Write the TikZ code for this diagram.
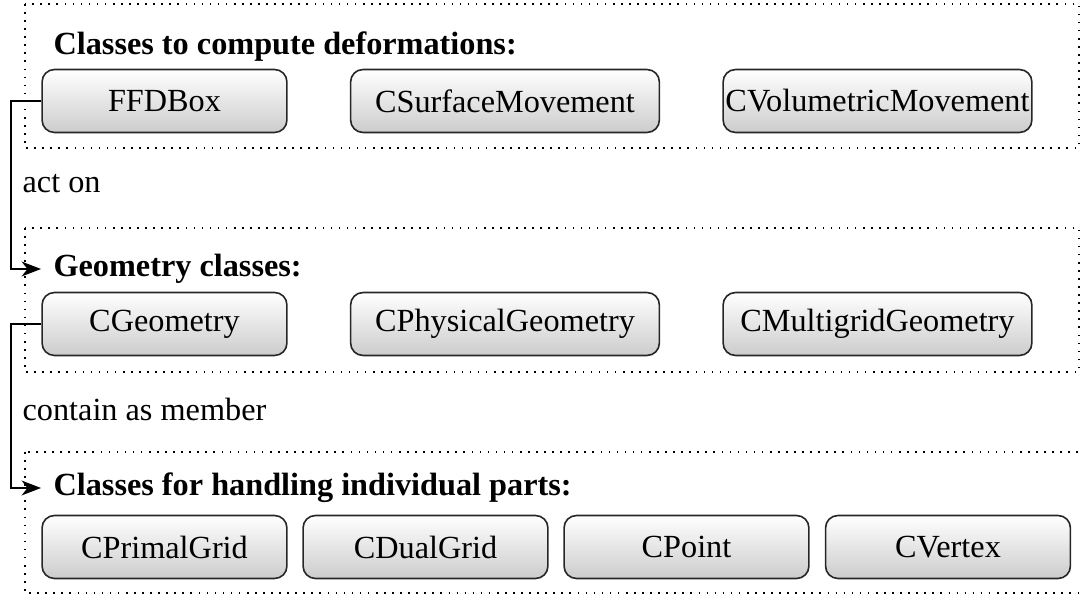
\documentclass[tikz,border=0pt]{standalone}
\usepackage{fontspec}
\setmainfont{Liberation Serif}
\usetikzlibrary{arrows.meta}
\begin{document}
\begin{tikzpicture}[x=0.31pt,y=-0.31pt,
  frame/.style={draw=black, dotted, line width=0.5pt},
  classbox/.style={draw=black!85, line width=0.5pt, rounded corners=3.8pt,
    top color=white, bottom color=black!20, minimum height=19.5pt,
    inner xsep=0pt, font=\fontsize{10}{12}\selectfont},
  narrow/.style={classbox, minimum width=75.9pt},
  wide/.style={classbox, minimum width=95.7pt},
  grouptitle/.style={anchor=west, inner xsep=3.7pt, font=\fontsize{10}{12}\selectfont\bfseries},
  relation/.style={anchor=base west, inner sep=0pt, font=\fontsize{10}{12}\selectfont},
  link/.style={line width=0.6pt, -{Stealth[length=6pt,width=4.6pt,inset=1.8pt]}},
]
\useasboundingbox (0,0) rectangle (1080,602);
\clip (0,0) rectangle (1080,602);

% group frames
\draw[frame] (25,4) rectangle (1079,148);
\draw[frame] (25,228) rectangle (1079,372);
\draw[frame] (25,452) rectangle (1100,593);

% deformation classes
\node[grouptitle] (tdef) at (41,47) {Classes to compute deformations:};
\node[narrow] (ffd)  at (164.5,101) {FFDBox};
\node[wide]   (surf) at (505,101)   {CSurfaceMovement};
\node[wide]   (vol)  at (877.5,101) {CVolumetricMovement};

% geometry classes
\node[grouptitle] (tgeo) at (41,269) {Geometry classes:};
\node[narrow] (geo)  at (164.5,324) {CGeometry};
\node[wide]   (phys) at (505,324)   {CPhysicalGeometry};
\node[wide]   (mg)   at (877.5,324) {CMultigridGeometry};

% part classes
\node[grouptitle] (tpart) at (41,488) {Classes for handling individual parts:};
\node[narrow] (primal) at (164.5,547) {CPrimalGrid};
\node[narrow] (dual)   at (425.5,547) {CDualGrid};
\node[narrow] (point)  at (686.5,547) {CPoint};
\node[narrow] (vertex) at (948,547)   {CVertex};

% relations
\node[relation] (acton) at (22,193) {act on};
\node[relation] (member) at (22,421) {contain as member};

\draw[link] (ffd.west) -- ++(-30,0) |- (tgeo.west);
\draw[link] (geo.west) -- ++(-30,0) |- (tpart.west);
\end{tikzpicture}
\end{document}
